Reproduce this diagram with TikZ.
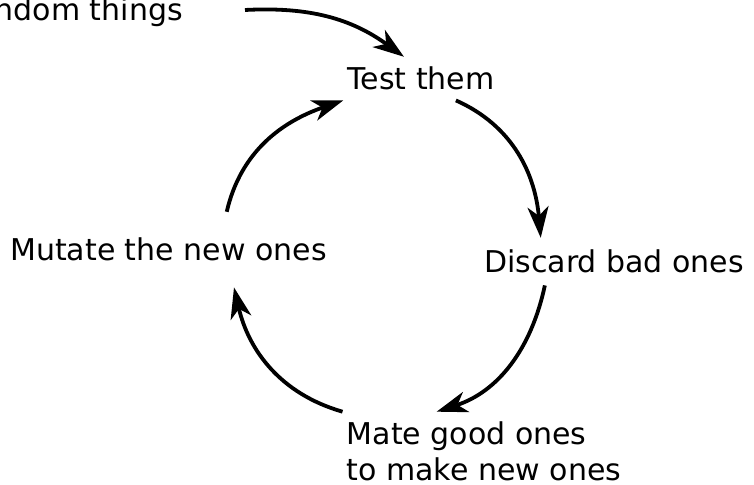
\documentclass[tikz,border=0pt]{standalone}
\usepackage{fontspec}
\setmainfont{DejaVu Sans}
\usetikzlibrary{arrows.meta}
\tikzset{
  stage/.style={font=\fontsize{30}{36}\selectfont,align=left,inner xsep=4pt},
  loopedge/.style={-{Stealth[length=31pt,width=21pt,inset=9pt]},line width=3.8pt},
}
\begin{document}
\begin{tikzpicture}[x=1pt,y=1pt]
\useasboundingbox (0,0) rectangle (754,-484);
% the stages of the loop
\node[stage,anchor=base east,inner sep=0pt] (gen) at (183,-21) {ndom things};
\node[stage,inner ysep=10pt] (test) at (421,-78.6) {Test them};
\node[stage,inner ysep=12pt] (discard) at (614,-261.6) {Discard bad ones};
\node[stage,inner ysep=10pt] (mate) at (484,-451.5) {Mate good ones\\to make new ones};
\node[stage,inner ysep=26pt] (mutate) at (168.5,-249.6) {Mutate the new ones};
\coordinate (genout) at (245,-10);
% arrows round the circle
\draw[loopedge] (genout) to[out=3,in=144] (test.128);
\draw[loopedge] (test.-32) to[out=-24,in=95] (discard.162);
\draw[loopedge] (discard.199) to[out=-102,in=18] (mate.140);
\draw[loopedge] (mate.north west) to[out=164,in=-77] (mutate.-30);
\draw[loopedge] (mutate.33) to[out=77,in=-161] (test.south west);
\end{tikzpicture}
\end{document}
